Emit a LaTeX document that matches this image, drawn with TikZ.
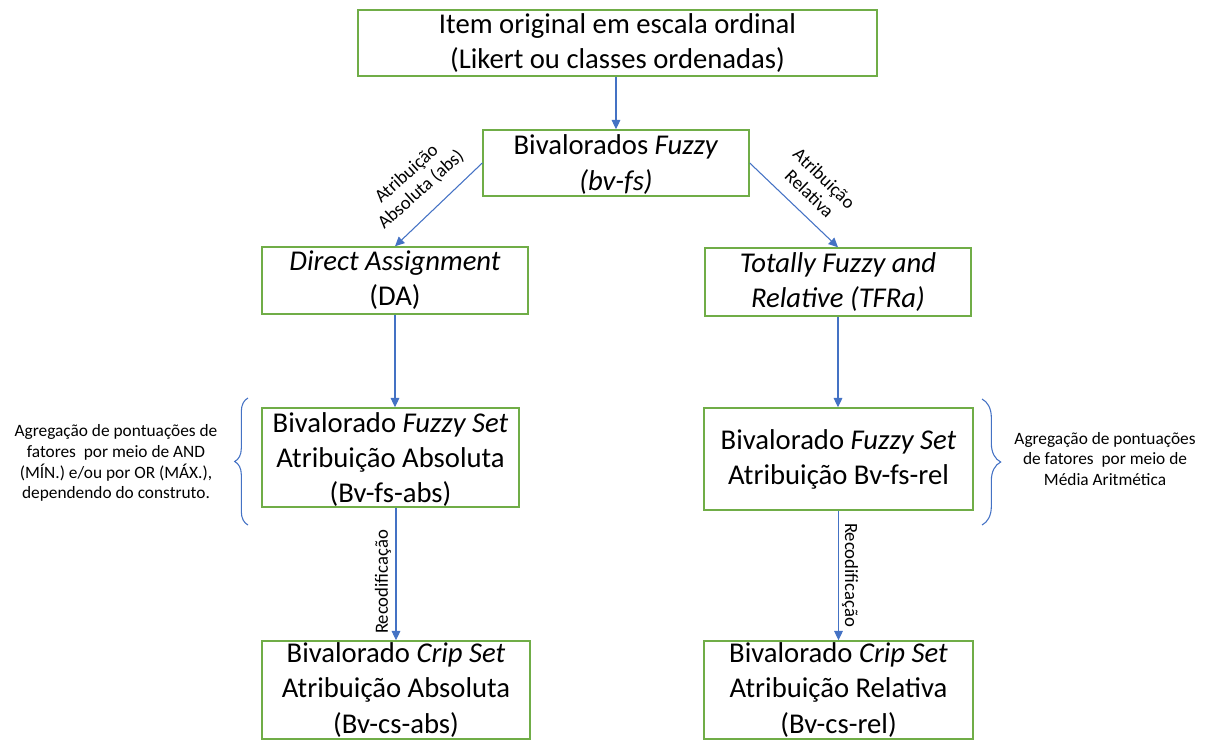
\documentclass[tikz,border=0pt]{standalone}
\usepackage{fontspec}
\setmainfont{Carlito}
\usetikzlibrary{arrows.meta,decorations.pathreplacing}
\definecolor{boxgreen}{HTML}{70AD47}
\definecolor{linkblue}{HTML}{4472C4}
\begin{document}
\begin{tikzpicture}[x=0.75pt,y=-0.75pt,
  box/.style={draw=boxgreen,line width=1.1pt,inner sep=0pt},
  main/.style={align=center,font=\fontsize{21.5}{26.3}\selectfont,inner sep=0pt},
  link/.style={draw=linkblue,line width=0.8pt,-{Triangle[length=7pt,width=6.5pt]}},
  note/.style={align=center,font=\fontsize{13}{15.6}\selectfont,inner sep=0pt},
  tag/.style={align=center,font=\fontsize{14}{16}\selectfont,inner sep=0pt},
  curly/.style={draw=linkblue,line width=0.8pt,decorate}]
\useasboundingbox (0,0) rectangle (1209,740);

% frames
\node[box,minimum width=519*0.75pt,minimum height=66*0.75pt] (b1) at (617.5,43) {};
\node[box,minimum width=266*0.75pt,minimum height=66*0.75pt] (b2) at (616,163) {};
\node[box,minimum width=266*0.75pt,minimum height=67*0.75pt] (b3) at (395,280.5) {};
\node[box,minimum width=266*0.75pt,minimum height=68*0.75pt] (b4) at (838,282) {};
\node[box,minimum width=257*0.75pt,minimum height=99*0.75pt] (b5) at (390.5,457.5) {};
\node[box,minimum width=269*0.75pt,minimum height=102*0.75pt] (b6) at (838.5,459) {};
\node[box,minimum width=268*0.75pt,minimum height=98*0.75pt] (b7) at (396,690) {};
\node[box,minimum width=269*0.75pt,minimum height=98*0.75pt] (b8) at (838.5,690) {};

% texts
\node[main] (t1) at (b1.center) {Item original em escala ordinal\\(Likert ou classes ordenadas)};
\node[main] (t2) at ([yshift=-1.5*0.75pt]b2.center) {Bivalorados \textit{Fuzzy}\\\textit{(bv-fs)}};
\node[main] (t3) at (b3.center) {\textit{Direct Assignment}\\(DA)};
\node[main] (t4) at (b4.center) {\textit{Totally Fuzzy and}\\\textit{Relative (TFRa)}};
\node[main] (t5) at ([yshift=-2*0.75pt]b5.center) {Bivalorado \textit{Fuzzy Set}\\Atribuição Absoluta\\(Bv-fs-abs)};
\node[main] (t6) at (b6.center) {Bivalorado \textit{Fuzzy Set}\\Atribuição Bv-fs-rel};
\node[main] (t7) at (b7.center) {Bivalorado \textit{Crip Set}\\Atribuição Absoluta\\(Bv-cs-abs)};
\node[main] (t8) at (b8.center) {Bivalorado \textit{Crip Set}\\Atribuição Relativa\\(Bv-cs-rel)};

% connectors
\draw[link] (b2.north |- b1.south) -- (b2.north);
\draw[link] (b2.west) -- (b3.north);
\draw[link] (b2.east) -- (b4.north);
\draw[link] (b3.south) -- (b3.south |- b5.north);
\draw[link] (b4.south) -- (b4.south |- b6.north);
\draw[link] (b7.north |- b5.south) -- (b7.north);
\draw[link] (b8.north |- b6.south) -- (b8.north);

% connector labels
\node[tag,rotate=42] (l1) at (414,182) {Atribuição\\Absoluta (abs)};
\node[tag,rotate=-44] (l2) at (817,186) {Atribuição\\Relativa};
\node[tag,rotate=90] (l3) at (383,582) {Recodificação};
\node[tag,rotate=-90] (l4) at (850,575) {Recodificação};

% braces and side notes
\coordinate (bl1) at (248,525);
\coordinate (bl2) at (248,398);
\coordinate (br1) at (982,399);
\coordinate (br2) at (982,525);
\draw[curly,decoration={brace,amplitude=10pt}] (bl1) -- (bl2);
\draw[curly,decoration={brace,amplitude=14pt}] (br1) -- (br2);
\node[note] (n1) at (116,463) {Agregação de pontuações de\\fatores~ por meio de AND\\(MÍN.) e/ou por OR (MÁX.),\\dependendo do construto.};
\node[note] (n2) at (1105,459) {Agregação de pontuações\\de fatores~ por meio de\\Média Aritmética};
\end{tikzpicture}
\end{document}
